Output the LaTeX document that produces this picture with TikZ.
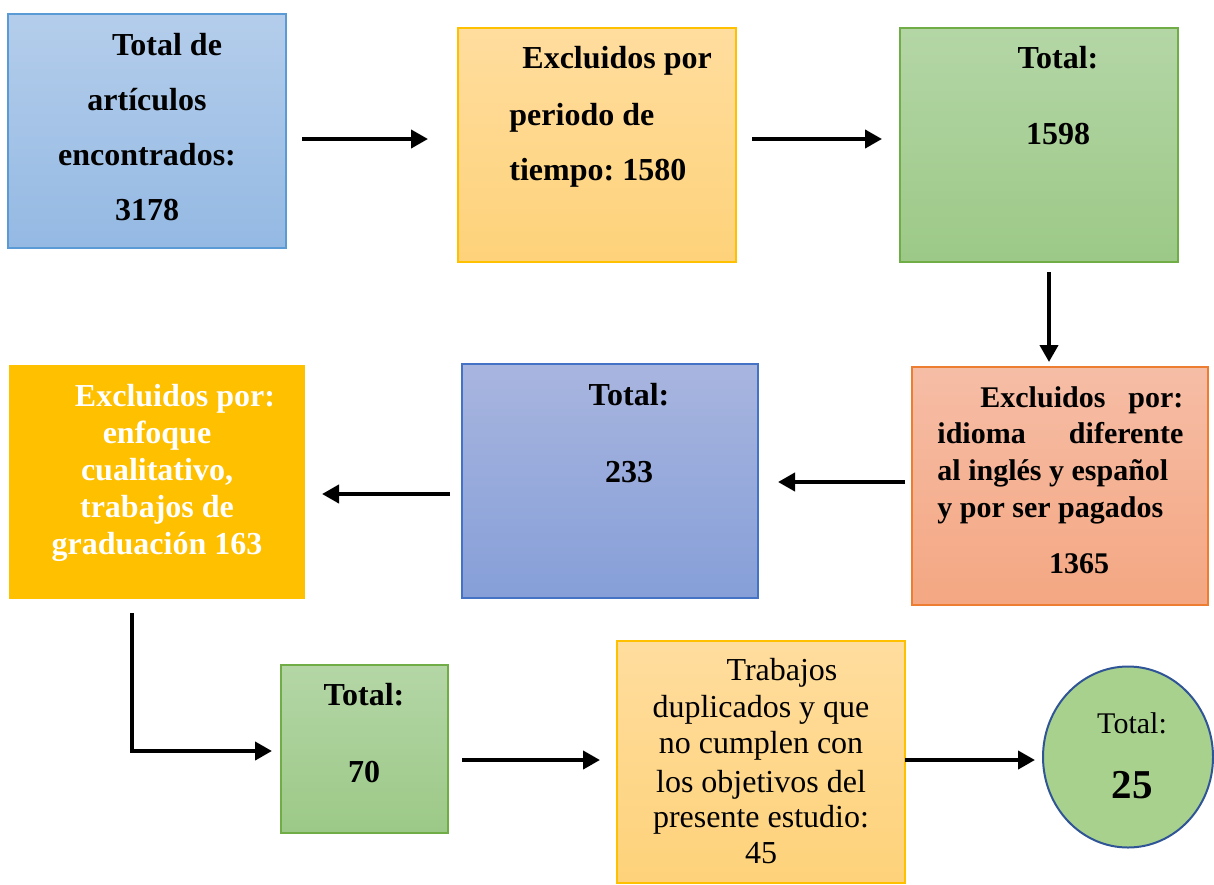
\documentclass[tikz,border=0pt]{standalone}
\usepackage{fontspec}
\setmainfont{Liberation Serif}
\frenchspacing
\usetikzlibrary{arrows.meta,calc,shapes.geometric}
\definecolor{blueT}{RGB}{180,205,235}
\definecolor{blueB}{RGB}{148,185,227}
\definecolor{blueE}{RGB}{91,155,213}
\definecolor{orT}{RGB}{255,221,158}
\definecolor{orB}{RGB}{254,210,122}
\definecolor{orE}{RGB}{255,192,0}
\definecolor{grT}{RGB}{180,214,166}
\definecolor{grB}{RGB}{156,201,135}
\definecolor{grE}{RGB}{112,173,71}
\definecolor{saT}{RGB}{246,189,166}
\definecolor{saB}{RGB}{244,167,130}
\definecolor{saE}{RGB}{237,125,49}
\definecolor{bbT}{RGB}{168,181,223}
\definecolor{bbB}{RGB}{134,159,216}
\definecolor{bbE}{RGB}{68,114,196}
\definecolor{gold}{RGB}{255,192,0}
\definecolor{circF}{RGB}{169,209,142}
\definecolor{circE}{RGB}{47,85,151}
\tikzset{
  box/.style={rectangle, inner sep=0pt, outer sep=0pt, line width=0.6pt},
  bluebox/.style={box, draw=blueE, top color=blueT, bottom color=blueB},
  orbox/.style={box, draw=orE, top color=orT, bottom color=orB},
  grbox/.style={box, draw=grE, top color=grT, bottom color=grB},
  sabox/.style={box, draw=saE, top color=saT, bottom color=saB},
  bbbox/.style={box, draw=bbE, top color=bbT, bottom color=bbB},
  goldbox/.style={box, fill=gold},
  txt/.style={inner sep=0pt, anchor=base, font=\bfseries\fontsize{16}{19}\selectfont},
  txtw/.style={txt, anchor=base west},
  stxt/.style={inner sep=0pt, anchor=base west, font=\bfseries\fontsize{15}{18}\selectfont},
  rtxt/.style={inner sep=0pt, anchor=base, font=\fontsize{16}{19}\selectfont},
  arr/.style={line width=2pt, -{Triangle[length=8.5pt,width=9pt]}},
}
\begin{document}
\begin{tikzpicture}[x=0.5pt,y=-0.5pt]
\useasboundingbox (0,0) rectangle (1214,884);
% boxes
\node[bluebox, minimum width=139pt, minimum height=117pt] (b1) at (147,131) {};
\node[orbox, minimum width=139pt, minimum height=117pt] (b2) at (597,145) {};
\node[grbox, minimum width=139pt, minimum height=117pt] (b3) at (1039,145) {};
\node[sabox, minimum width=148pt, minimum height=119pt] (b4) at (1060,486) {};
\node[bbbox, minimum width=148pt, minimum height=117pt] (b5) at (610,481) {};
\node[goldbox, minimum width=148pt, minimum height=117pt] (b6) at (157,482) {};
\node[grbox, minimum width=83.5pt, minimum height=84pt] (b7) at (364.5,749) {};
\node[orbox, minimum width=144pt, minimum height=121pt] (b8) at (761,762) {};
\node[ellipse, draw=circE, fill=circF, line width=1pt, inner sep=0pt,
      minimum width=85pt, minimum height=90.5pt] (b9) at (1128,757) {};
% texts box 1
\node[txt] (t1a) at (167,55) {Total de};
\node[txt] (t1b) at (147,110) {artículos};
\node[txt] (t1c) at (147,165) {encontrados:};
\node[txt] (t1d) at (147,220) {3178};
% box 2
\node[txtw] (t2a) at (522,68) {Excluidos por};
\node[txtw] (t2b) at (509,125) {periodo de};
\node[txtw] (t2c) at (509,180) {tiempo: 1580};
% box 3
\node[txt] (t3a) at (1058,68) {Total:};
\node[txt] (t3b) at (1058,144) {1598};
% box 4
\node[stxt] (t4a) at (980,407) {\makebox[101.5pt][s]{Excluidos por:}};
\node[stxt] (t4b) at (937,443) {\makebox[123pt][s]{idioma diferente}};
\node[stxt] (t4c) at (937,480) {al inglés y español};
\node[stxt] (t4d) at (937,517) {y por ser pagados};
\node[txt, font=\bfseries\fontsize{15}{18}\selectfont] (t4e) at (1079,573) {1365};
% box 5
\node[txt] (t5a) at (629,405) {Total:};
\node[txt] (t5b) at (629,482) {233};
% box 6
\node[txt, text=white] (t6a) at (175,406) {Excluidos por:};
\node[txt, text=white] (t6b) at (157,443) {enfoque};
\node[txt, text=white] (t6c) at (157,480) {cualitativo,};
\node[txt, text=white] (t6d) at (157,517) {trabajos de};
\node[txt, text=white] (t6e) at (157,554) {graduación 163};
% box 7
\node[txt] (t7a) at (364,705) {Total:};
\node[txt] (t7b) at (364,782) {70};
% box 8
\node[rtxt] (t8a) at (782,680) {Trabajos};
\node[rtxt] (t8b) at (761,717) {duplicados y que};
\node[rtxt] (t8c) at (761,753) {no cumplen con};
\node[rtxt] (t8d) at (761,792) {los objetivos del};
\node[rtxt] (t8e) at (761,827) {presente estudio:};
\node[rtxt] (t8f) at (761,863) {45};
% circle
\node[rtxt, font=\fontsize{15}{18}\selectfont] (t9a) at (1132,733) {Total:};
\node[txt, font=\bfseries\fontsize{20.5}{24}\selectfont] (t9b) at (1132,798) {25};
% connectors
\coordinate (r1) at (0,139);
\coordinate (c3) at (1049,0);
\coordinate (r4) at (0,482);
\coordinate (r5) at (0,494);
\coordinate (c6) at (132,0);
\coordinate (r7) at (0,760);
\draw[arr] ($(b1.east|-r1)+(16,0)$) -- ($(b2.west|-r1)+(-30,0)$);
\draw[arr] ($(b2.east|-r1)+(16,0)$) -- ($(b3.west|-r1)+(-18,0)$);
\draw[arr] ($(b3.south-|c3)+(0,10)$) -- ($(b4.north-|c3)+(0,-5)$);
\draw[arr] ($(b4.west|-r4)+(-7,0)$) -- ($(b5.east|-r4)+(20,0)$);
\draw[arr] ($(b5.west|-r5)+(-12,0)$) -- ($(b6.east|-r5)+(17,0)$);
\draw[arr] ($(b6.south-|c6)+(0,14)$) |- ($(b7.west)+(-9,2)$);
\draw[arr] ($(b7.east|-r7)+(14,0)$) -- ($(b8.west|-r7)+(-17,0)$);
\draw[arr] ($(b8.east|-r7)+(0,0)$) -- ($(b9.west|-r7)+(-7,0)$);
\end{tikzpicture}
\end{document}
